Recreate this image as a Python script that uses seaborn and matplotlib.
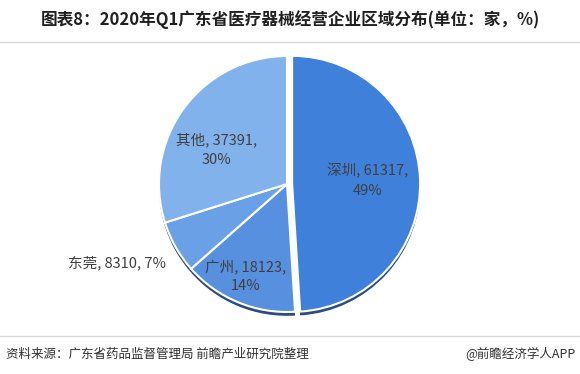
import matplotlib
matplotlib.use("Agg")
import matplotlib.pyplot as plt
import seaborn as sns

sns.set_theme(style="white")
plt.rcParams['font.family'] = ['Noto Sans CJK SC', 'DejaVu Sans']

regions = ["深圳", "广州", "东莞", "其他"]
counts = [61317, 18123, 8310, 37391]
shares = [49, 14, 7, 30]
colors = ["#3f80da", "#5890e0", "#6aa0e6", "#82b2ec"]
explode = [0.04, 0, 0, 0]

fig = plt.figure(figsize=(5.8, 3.74), dpi=100)
ax = fig.add_axes([0.0, 0.0, 1.0, 1.0])
ax.set_xlim(0, 580)
ax.set_ylim(374, 0)
ax.axis("off")

cx, cy, r = 287, 184, 128
half = 1.06 * r
pax = fig.add_axes([(cx - half) / 580, 1 - (cy + half) / 374,
                    2 * half / 580, 2 * half / 374])

# dark rim under the pie
pax.pie(counts, startangle=90, counterclock=False, explode=explode,
        colors=["#2b4c7e"] * 4, center=(0.0, -0.03),
        wedgeprops=dict(linewidth=0))
wedges, _ = pax.pie(counts, startangle=90, counterclock=False, explode=explode,
                    colors=colors,
                    wedgeprops=dict(edgecolor="white", linewidth=1.5))
pax.set_xlim(-1.06, 1.06)
pax.set_ylim(-1.06, 1.06)
pax.set_aspect("equal")

label_pos = [(0.63, 0.03), (-0.32, -0.72), None, (-0.55, 0.27)]
for name, c, s, pos in zip(regions, counts, shares, label_pos):
    if pos is None:
        continue
    pax.text(pos[0], pos[1], f"{name}, {c},\n{s}%", ha="center", va="center",
             fontsize=10.5, color="#404040", linespacing=1.5)

ax.text(117, 263, f"{regions[2]}, {counts[2]}, {shares[2]}%", ha="center",
        va="center", fontsize=10.5, color="#404040")

ax.text(290, 20, "图表8：2020年Q1广东省医疗器械经营企业区域分布(单位：家，%)",
        ha="center", va="center", fontsize=12, fontweight="bold", color="#202020")
ax.plot([0, 580], [42, 42], color="#d9d9d9", linewidth=1)
ax.plot([0, 580], [336, 336], color="#d9d9d9", linewidth=1)
ax.text(6, 354, "资料来源：广东省药品监督管理局 前瞻产业研究院整理", ha="left",
        va="center", fontsize=9, color="#303030")
ax.text(576, 354, "@前瞻经济学人APP", ha="right", va="center",
        fontsize=9, color="#303030")

fig.savefig("out.png", dpi=100)
